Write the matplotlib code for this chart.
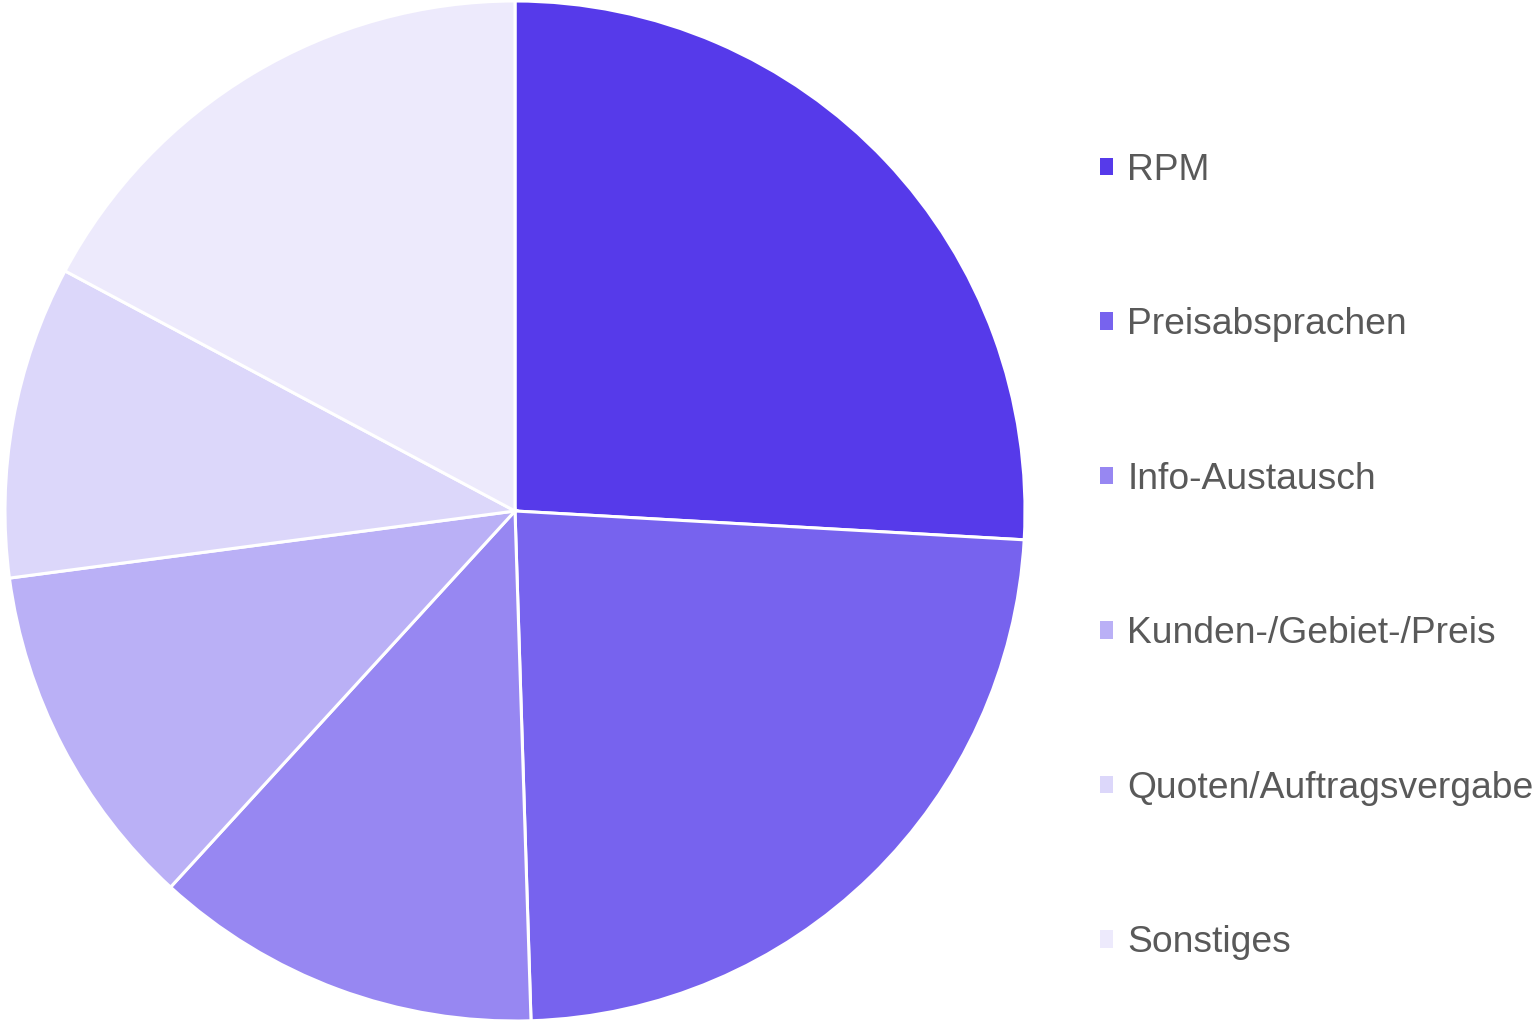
import matplotlib
matplotlib.use("Agg")
import matplotlib.pyplot as plt
from matplotlib.patches import Patch

plt.rcParams["font.family"] = ["Liberation Sans", "DejaVu Sans"]

categories = ["RPM", "Preisabsprachen", "Info-Austausch",
              "Kunden-/Gebiet-/Preis", "Quoten/Auftragsvergabe", "Sonstiges"]
shares = [25.9, 23.6, 12.3, 11.1, 9.9, 17.2]
colors = ["#563AEA", "#7763EE", "#9787F2", "#BAB0F6", "#DCD7FA", "#EDEAFC"]

W, H = 1537, 1022
fig = plt.figure(figsize=(W / 100, H / 100), dpi=100)

# pie centre ~ (515, 511) px, radius ~ 510 px
cx, cy, r = 515, 511, 510
ax = fig.add_axes([(cx - r) / W, (H - cy - r) / H, 2 * r / W, 2 * r / H])
ax.pie(shares, colors=colors, startangle=90, counterclock=False, radius=1,
       wedgeprops=dict(edgecolor="white", linewidth=2.2))
ax.set_xlim(-1, 1)
ax.set_ylim(-1, 1)
ax.set_aspect("equal")
ax.axis("off")

handles = [Patch(facecolor=c, edgecolor="none") for c in colors]
leg = fig.legend(handles, categories, loc="upper left",
                 bbox_to_anchor=(1100 / W, 1 - 153 / H), frameon=False,
                 fontsize=26.8, labelcolor="#595959",
                 handlelength=0.35, handleheight=0.35, handletextpad=0.38,
                 labelspacing=3.21, borderpad=0, borderaxespad=0)

fig.savefig("out.png", dpi=100)
